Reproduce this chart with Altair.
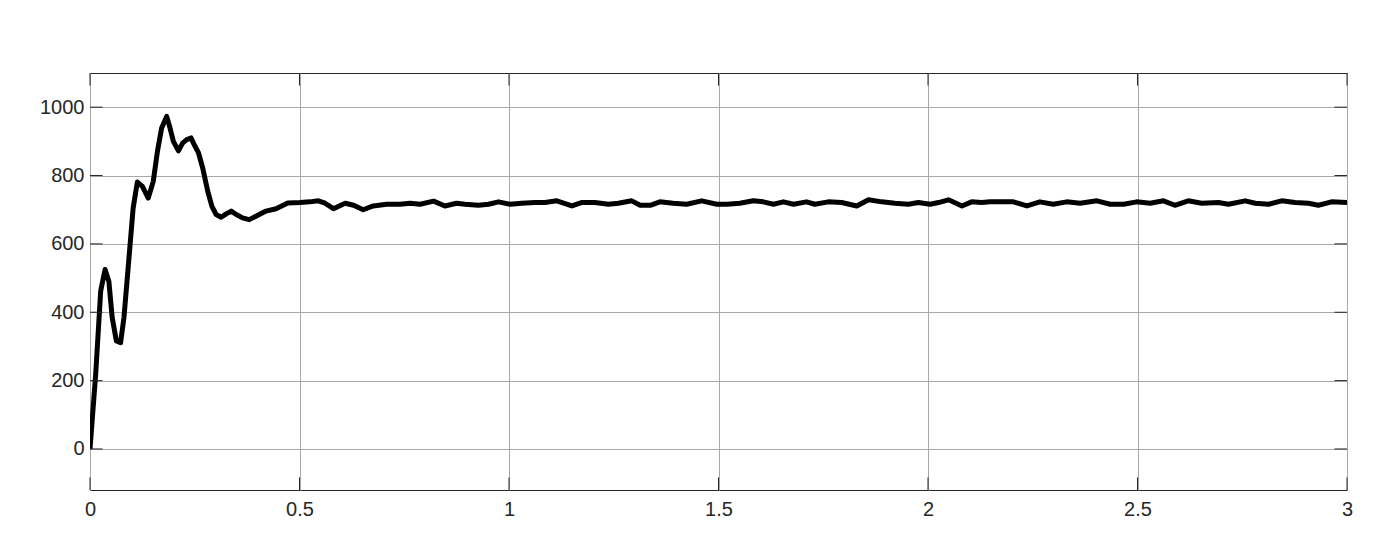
import altair as alt
import pandas as pd

# time (s) and response values
t_vals = [0, 0.0136, 0.0255, 0.036, 0.045, 0.053, 0.063, 0.073, 0.081, 0.093,
          0.103, 0.113, 0.125, 0.139, 0.151, 0.161, 0.171, 0.183, 0.191, 0.199,
          0.211, 0.221, 0.231, 0.241, 0.249, 0.259, 0.269, 0.281, 0.291, 0.301,
          0.313, 0.325, 0.337, 0.349, 0.364, 0.380, 0.396, 0.420, 0.444, 0.472,
          0.501, 0.525, 0.545, 0.561, 0.581, 0.609, 0.629, 0.652, 0.676, 0.708,
          0.740, 0.764, 0.788, 0.820, 0.847, 0.875, 0.895, 0.927, 0.951, 0.975,
          1.003, 1.030, 1.062, 1.086, 1.114, 1.150, 1.173, 1.205, 1.237, 1.261,
          1.293, 1.313, 1.337, 1.360, 1.392, 1.424, 1.460, 1.496, 1.520, 1.551,
          1.583, 1.607, 1.631, 1.655, 1.679, 1.710, 1.730, 1.762, 1.794, 1.830,
          1.858, 1.890, 1.921, 1.953, 1.977, 2.005, 2.025, 2.049, 2.081, 2.104,
          2.128, 2.148, 2.172, 2.204, 2.236, 2.267, 2.299, 2.331, 2.363, 2.403,
          2.435, 2.467, 2.498, 2.530, 2.562, 2.589, 2.621, 2.653, 2.693, 2.717,
          2.757, 2.781, 2.813, 2.844, 2.876, 2.908, 2.932, 2.963, 3.0]
v_vals = [0, 219, 462, 525, 491, 384, 316, 311, 384, 559,
          705, 781, 768, 734, 783, 871, 939, 973, 939, 900,
          872, 895, 905, 910, 890, 866, 822, 754, 710, 686,
          678, 688, 696, 686, 676, 671, 681, 696, 703, 720,
          721, 723, 726, 719, 703, 719, 713, 700, 711, 716,
          716, 719, 716, 725, 711, 719, 716, 713, 716, 723,
          716, 719, 721, 721, 726, 711, 721, 721, 716, 719,
          726, 713, 713, 723, 719, 716, 726, 716, 716, 719,
          726, 723, 716, 723, 716, 723, 716, 723, 721, 711,
          729, 723, 719, 716, 721, 716, 721, 729, 711, 723,
          721, 723, 723, 723, 711, 723, 716, 723, 719, 726,
          716, 716, 723, 719, 726, 713, 726, 719, 721, 716,
          726, 719, 716, 726, 721, 719, 713, 723, 721]

x_ticks = [0, 0.5, 1, 1.5, 2, 2.5, 3]
y_ticks = [0, 200, 400, 600, 800, 1000]
x_domain = [0, 3]
y_domain = [-120, 1100]

df = pd.DataFrame({"t": t_vals, "v": v_vals})

FONT = "Liberation Sans"
TXT = "#262626"
GRID = "#a8a8a8"

xs = alt.Scale(domain=x_domain, nice=False, zero=False)
ys = alt.Scale(domain=y_domain, nice=False, zero=False)

x_axis = alt.Axis(values=x_ticks, grid=True, gridColor=GRID, gridWidth=1,
                  domain=False, ticks=False, labelFontSize=20, labelFont=FONT,
                  labelColor=TXT, labelPadding=9, labelFlush=False,
                  labelOverlap=False, format="~g", title=None)
y_axis = alt.Axis(values=y_ticks, grid=True, gridColor=GRID, gridWidth=1,
                  domain=False, ticks=False, labelFontSize=20, labelFont=FONT,
                  labelColor=TXT, labelPadding=6, labelOverlap=False,
                  format="d", title=None)

# inward tick marks (MATLAB style), length as fraction of the axis span
tick_frac_x = 0.01 * (x_domain[1] - x_domain[0])
tick_frac_y = 0.0302 * (y_domain[1] - y_domain[0])
ytick_rows = []
for v in y_ticks:
    ytick_rows.append({"t": x_domain[0], "t2": x_domain[0] + tick_frac_x, "v": v})
    ytick_rows.append({"t": x_domain[1] - tick_frac_x, "t2": x_domain[1], "v": v})
xtick_rows = []
for t in x_ticks:
    xtick_rows.append({"t": t, "v": y_domain[0], "v2": y_domain[0] + tick_frac_y})
    xtick_rows.append({"t": t, "v": y_domain[1] - tick_frac_y, "v2": y_domain[1]})

line = alt.Chart(df).mark_line(color="black", strokeWidth=5, clip=True,
                               strokeJoin="round").encode(
    x=alt.X("t:Q", scale=xs, axis=x_axis, title=None),
    y=alt.Y("v:Q", scale=ys, axis=y_axis, title=None),
)

yt = alt.Chart(pd.DataFrame(ytick_rows)).mark_rule(color=TXT, strokeWidth=1).encode(
    x=alt.X("t:Q", title=None), x2="t2:Q", y=alt.Y("v:Q", title=None))
xt = alt.Chart(pd.DataFrame(xtick_rows)).mark_rule(color=TXT, strokeWidth=1).encode(
    x=alt.X("t:Q", title=None), y=alt.Y("v:Q", title=None), y2="v2:Q")

chart = alt.layer(line, yt, xt).properties(
    width=1257, height=417,
    autosize=alt.AutoSizeParams(type="none"),
    padding={"left": 82, "top": 65, "right": 40, "bottom": 50},
).configure_view(stroke=TXT, strokeWidth=1)

chart.save("out.html", embed_options={"renderer": "svg", "actions": False})
